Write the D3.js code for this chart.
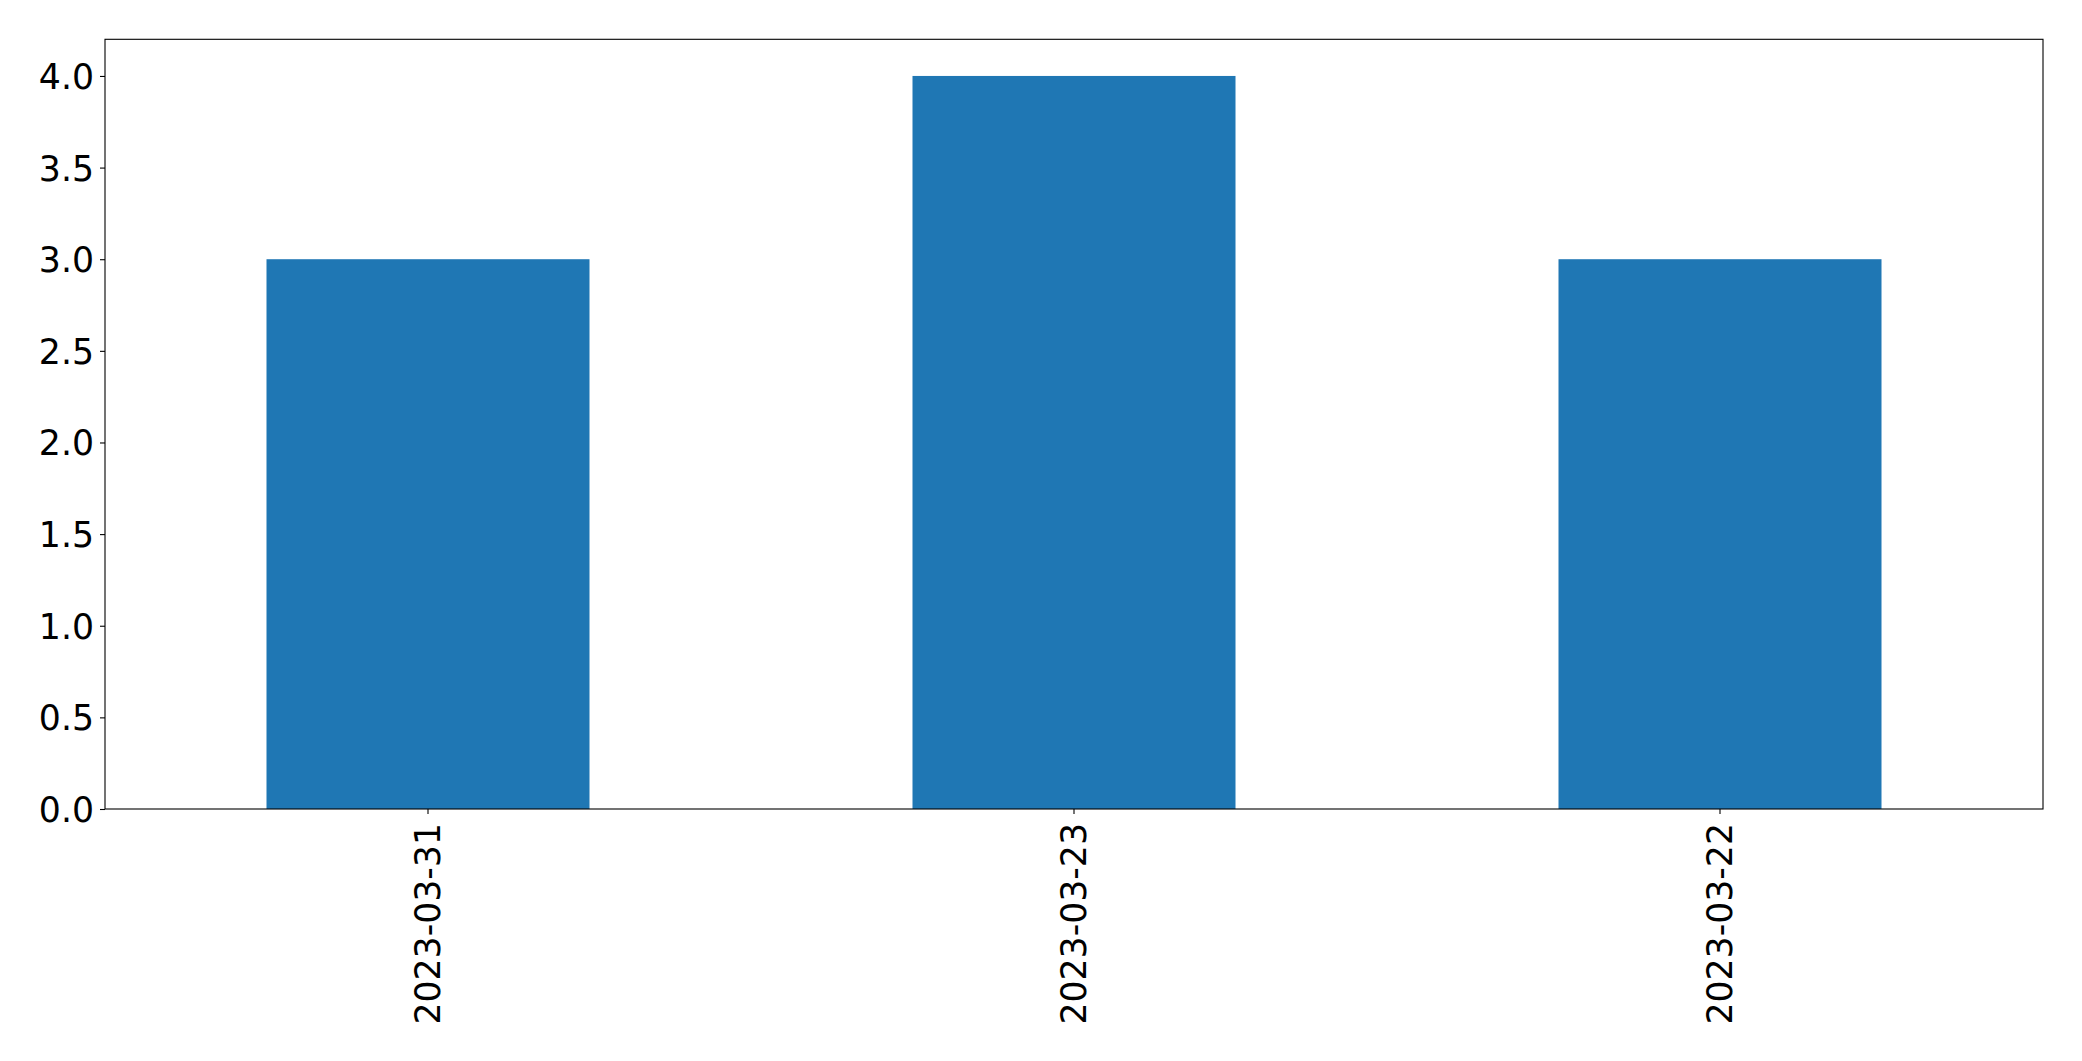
<!DOCTYPE html>
<html>
<head>
<meta charset="utf-8">
<script src="https://cdn.jsdelivr.net/npm/d3@7"></script>
<style>
  html, body { margin: 0; padding: 0; background: #fff; }
  svg { display: block; }
  text { font-family: "DejaVu Sans", sans-serif; }
</style>
</head>
<body>
<script>
const categories = ["2023-03-31", "2023-03-23", "2023-03-22"];
const values = [3, 4, 3];
const yTicks = [0, 0.5, 1.0, 1.5, 2.0, 2.5, 3.0, 3.5, 4.0];

const W = 2082, H = 1061;
const mLeft = 105, mRight = 2043, mTop = 39.3, mBottom = 809;
const fontSize = 34.7;

const svg = d3.select("body").append("svg").attr("width", W).attr("height", H);

const x = d3.scaleBand().domain(categories).range([mLeft, mRight])
  .paddingInner(0.5).paddingOuter(0.25);
const y = d3.scaleLinear().domain([0, 4.2]).range([mBottom, mTop]);

svg.append("g").selectAll("rect").data(values).join("rect")
  .attr("x", (d, i) => x(categories[i]))
  .attr("y", d => y(d))
  .attr("width", x.bandwidth())
  .attr("height", d => y(0) - y(d))
  .attr("fill", "#1f77b4");

// Y axis
const yAxis = svg.append("g").attr("transform", `translate(${mLeft},0)`)
  .call(d3.axisLeft(y).tickValues(yTicks).tickFormat(d3.format(".1f")).tickSize(5).tickPadding(6));
yAxis.select(".domain").remove();
yAxis.selectAll("line").attr("stroke", "#000").attr("stroke-width", 1.1);
yAxis.selectAll("text").attr("font-size", fontSize).attr("fill", "#000")
  .attr("font-family", "DejaVu Sans").attr("dy", "0.36em");

// X axis
const xAxis = svg.append("g").attr("transform", `translate(0,${mBottom})`)
  .call(d3.axisBottom(x).tickSize(5).tickPadding(0));
xAxis.select(".domain").remove();
xAxis.selectAll("line").attr("stroke", "#000").attr("stroke-width", 1.1);
xAxis.selectAll("text")
  .attr("font-size", fontSize).attr("fill", "#000").attr("font-family", "DejaVu Sans")
  .attr("text-anchor", "end")
  .attr("dy", null)
  .attr("dominant-baseline", "central")
  .attr("transform", "translate(0,14) rotate(-90)")
  .attr("x", 0).attr("y", 0);

// Frame
svg.append("rect")
  .attr("x", mLeft).attr("y", mTop)
  .attr("width", mRight - mLeft).attr("height", mBottom - mTop)
  .attr("fill", "none").attr("stroke", "#000").attr("stroke-width", 1.1);
</script>
</body>
</html>
